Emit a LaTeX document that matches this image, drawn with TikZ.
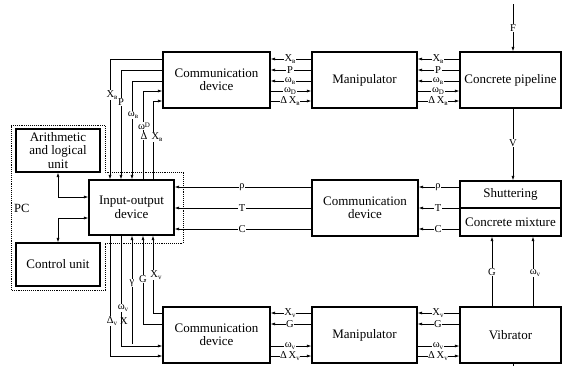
\documentclass[tikz,border=0pt]{standalone}
\usepackage{fontspec}
\setmainfont{Liberation Serif}
\usetikzlibrary{arrows.meta}
\newcommand\sbs[1]{\raisebox{-0.45ex}{\fontsize{7}{7}\selectfont #1}}
\newcommand\sps[1]{\raisebox{0.5ex}{\fontsize{7}{7}\selectfont #1}}
\begin{document}
\begin{tikzpicture}[x=1pt,y=-1pt,
  >={Latex[length=4.5pt,width=3pt]},
  box/.style={draw, line width=1.1pt, inner sep=0pt, align=center, font=\fontsize{13}{13.5}\selectfont},
  ln/.style={line width=0.7pt},
  con/.style={ln,->},
  lab/.style={fill=white, inner sep=0.6pt, font=\fontsize{10.5}{11}\selectfont}]
\useasboundingbox (0,0) rectangle (562,365);
% boxes
\node[box, minimum width=107pt, minimum height=56pt] (ctop) at (216.5,80) {Communication\\device};
\node[box, minimum width=105pt, minimum height=56pt] (mtop) at (364.5,80) {Manipulator};
\node[box, minimum width=101pt, minimum height=56pt] (pipe) at (510.5,80) {Concrete pipeline};
\node[box, minimum width=106pt, minimum height=56pt] (cmid) at (365,208) {Communication\\device};
\node[box, minimum width=101pt, minimum height=27pt] (shut) at (510.5,194.5) {Shuttering};
\node[box, minimum width=101pt, minimum height=28pt] (mix) at (510.5,222) {Concrete mixture};
\node[box, minimum width=85pt, minimum height=55pt] (io) at (131.5,207.5) {Input-output\\device};
\node[box, minimum width=84pt, minimum height=43pt] (alu) at (58,150.5) {Arithmetic\\and logical\\unit};
\node[box, minimum width=84pt, minimum height=43pt] (cu) at (58,264.5) {Control unit};
\node[box, minimum width=107pt, minimum height=56pt] (cbot) at (216.5,335) {Communication\\device};
\node[box, minimum width=105pt, minimum height=56pt] (mbot) at (364.5,335) {Manipulator};
\node[box, minimum width=101pt, minimum height=56pt] (vib) at (510.5,335) {Vibrator};
% helper coordinates
\foreach \n/\y in {r1/59,r2/70,r3/81,r4/91,r5/101,m1/187,m2/208,m3/229,b1/313,b2/324,b3/346,b4/356,a1/197,a2/218}
  \coordinate (\n) at (0,\y);
\foreach \n/\x in {v1/110,v2/121,v3/132,v4/143,v5/153,xf/513,xg/492,xw/533}
  \coordinate (\n) at (\x,0);
\coordinate (ftop) at (513,4);
\coordinate (vbot) at (513,366);
\coordinate (gend) at (132,344);
% top row connections
\foreach \a/\b in {mtop/ctop,pipe/mtop}{
  \draw[con] (\a.west|-r1) -- (\b.east|-r1);
  \draw[con] (\a.west|-r2) -- (\b.east|-r2);
  \draw[con] (\a.west|-r3) -- (\b.east|-r3);
  \draw[con] (\b.east|-r4) -- (\a.west|-r4);
  \draw[con] (\b.east|-r5) -- (\a.west|-r5);
}
% bottom row connections
\foreach \a/\b in {mbot/cbot,vib/mbot}{
  \draw[con] (\a.west|-b1) -- (\b.east|-b1);
  \draw[con] (\a.west|-b2) -- (\b.east|-b2);
  \draw[con] (\b.east|-b3) -- (\a.west|-b3);
  \draw[con] (\b.east|-b4) -- (\a.west|-b4);
}
% middle row
\draw[con] (shut.west|-m1) -- (cmid.east|-m1);
\draw[con] (shut.west|-m2) -- (cmid.east|-m2);
\draw[con] (mix.west|-m3) -- (cmid.east|-m3);
\draw[con] (cmid.west|-m1) -- (io.east|-m1);
\draw[con] (cmid.west|-m2) -- (io.east|-m2);
\draw[con] (cmid.west|-m3) -- (io.east|-m3);
% right verticals
\draw[con] (ftop) -- (pipe.north-|xf);
\draw[con] (pipe.south-|xf) -- (shut.north-|xf);
\draw[con] (vib.north-|xg) -- (mix.south-|xg);
\draw[con] (vib.north-|xw) -- (mix.south-|xw);
\draw[ln] (vib.south-|xf) -- (vbot);
% top-left
\draw[con] (ctop.west|-r1) -| (io.north-|v1);
\draw[con] (ctop.west|-r2) -| (io.north-|v2);
\draw[con] (ctop.west|-r3) -| (io.north-|v3);
\draw[con] (io.north-|v4) |- (ctop.west|-r4);
\draw[con] (io.north-|v5) |- (ctop.west|-r5);
% bottom-left
\draw[con] (cbot.west|-b1) -| (io.south-|v5);
\draw[con] (cbot.west|-b2) -| (io.south-|v4);
\draw[con] (gend) -- (io.south-|v3);
\draw[con] (io.south-|v2) |- (cbot.west|-b3);
\draw[con] (io.south-|v1) |- (cbot.west|-b4);
% PC internal
\draw[ln,<->] (alu.south) |- (io.west|-a1);
\draw[ln,<->] (cu.north) |- (io.west|-a2);
% dotted outline
\draw[line width=0.9pt, densely dotted] (11,125) -- (105,125) -- (105,172) -- (183,172) -- (183,243) -- (105,243) -- (105,290) -- (11,290) -- cycle;
\node[anchor=west, inner sep=0pt, font=\fontsize{12.5}{12.5}\selectfont] (pc) at (14,208) {PC};
% horizontal labels
\foreach \x in {290,438}{
  \node[lab] (la\x) at (\x,59) {X\sbs{в}};
  \node[lab] (lb\x) at (\x,70) {P};
  \node[lab] (lc\x) at (\x,81) {ω\sbs{в}};
  \node[lab] (ld\x) at (\x,91) {ω\sbs{D}};
  \node[lab] (le\x) at (\x,101) {Δ\,X\sbs{в}};
  \node[lab] (lf\x) at (\x,313) {X\sbs{v}};
  \node[lab] (lg\x) at (\x,324) {G};
  \node[lab] (lh\x) at (\x,346) {ω\sbs{v}};
  \node[lab] (li\x) at (\x,356) {Δ\,X\sbs{v}};
}
\foreach \x in {242,438}{
  \node[lab] (lm\x) at (\x,187) {ρ};
  \node[lab] (ln\x) at (\x,208) {T};
  \node[lab] (lo\x) at (\x,229) {C};
}
% vertical labels top-left
\node[lab] (t1) at (112,95) {X\sbs{в}};
\node[lab] (t2) at (121,102) {P};
\node[lab] (t3) at (133,115) {ω\sbs{в}};
\node[lab] (t4) at (144,126) {ω\sps{D}};
\node[lab] (t5) at (144,136) {Δ};
\node[lab] (t6) at (157,137) {X\sbs{в}};
% vertical labels bottom-left
\node[lab] (u1) at (156,275) {X\sbs{v}};
\node[lab] (u2) at (143,279) {G};
\node[lab] (u3) at (132,283) {γ};
\node[lab] (u4) at (123,308) {ω\sbs{v}};
\node[lab] (u5) at (112,321) {Δ\sbs{v}};
\node[lab, fill=none] (u6) at (124,321) {X};
% right labels
\node[lab] (w1) at (513,28) {F};
\node[lab] (w2) at (513,143) {V};
\node[lab] (w3) at (492,272) {G};
\node[lab] (w4) at (535,273) {ω\sbs{v}};
\end{tikzpicture}
\end{document}
